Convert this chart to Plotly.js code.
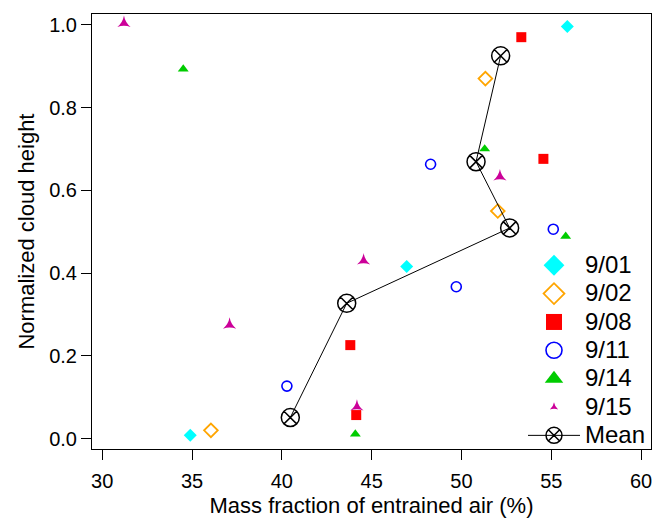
<!DOCTYPE html>
<html>
<head>
<meta charset="utf-8">
<script src="https://cdn.plot.ly/plotly-3.0.1.min.js"></script>
<style>html,body{margin:0;padding:0;background:#fff;}#chart{width:653px;height:520px;}</style>
</head>
<body>
<div id="chart"></div>
<script>
// Series data (mass fraction of entrained air %, normalized cloud height)
const seriesNames = ['9/01', '9/02', '9/08', '9/11', '9/14', '9/15'];
const x0901 = [55.89, 46.95, 34.90];
const y0901 = [0.996, 0.416, 0.008];
const x0902 = [51.33, 52.02, 36.05];
const y0902 = [0.870, 0.550, 0.020];
const x0908 = [53.33, 54.56, 43.81, 44.14];
const y0908 = [0.970, 0.676, 0.226, 0.057];
const x0911 = [48.28, 55.11, 49.71, 40.28];
const y0911 = [0.663, 0.506, 0.367, 0.127];
const x0914 = [34.51, 51.29, 55.80, 44.09];
const y0914 = [0.893, 0.700, 0.489, 0.011];
const x0915 = [31.21, 52.14, 44.55, 37.09, 44.18];
const y0915 = [1.004, 0.633, 0.430, 0.275, 0.077];
const xMean = [40.47, 43.61, 52.68, 50.81, 52.18];
const yMean = [0.051, 0.327, 0.509, 0.669, 0.925];
const xTitle = 'Mass fraction of entrained air (%)';
const yTitle = 'Normalized cloud height';

const xs = [x0901, x0902, x0908, x0911, x0914, x0915];
const ys = [y0901, y0902, y0908, y0911, y0914, y0915];

const styles = [
  {symbol: 'diamond', color: '#00FFFF', size: 10, lsize: 16, line: {width: 0}},
  {symbol: 'diamond-open', color: '#FFA500', size: 10.5, lsize: 16, line: {width: 1.8, color: '#FFA500'}},
  {symbol: 'square', color: '#FF0000', size: 10, lsize: 16, line: {width: 0}},
  {symbol: 'circle-open', color: '#0000FF', size: 10, lsize: 16, line: {width: 1.6, color: '#0000FF'}},
  {symbol: 'triangle-up', color: '#00CC00', size: 9.5, lsize: 16, line: {width: 0}},
  {symbol: 'star-triangle-up', color: '#CC0099', size: 9.5, lsize: 6, line: {width: 0}}
];

const legendText = name => '<span style="font-size:24px">' + name + '</span>';

const traces = [];
for (let i = 0; i < seriesNames.length; i++) {
  const s = styles[i];
  traces.push({
    type: 'scatter', mode: 'markers', x: xs[i], y: ys[i], name: seriesNames[i],
    showlegend: false, hoverinfo: 'x+y',
    marker: {symbol: s.symbol, color: s.color, size: s.size, line: s.line}
  });
}
traces.push({
  type: 'scatter', mode: 'lines+markers', x: xMean, y: yMean, name: 'Mean',
  showlegend: false,
  line: {color: '#000', width: 1},
  marker: {symbol: 'circle-x-open', color: '#000', size: 18, line: {width: 1.5, color: '#000'}}
});
// legend entries
for (let i = 0; i < seriesNames.length; i++) {
  const s = styles[i];
  traces.push({
    type: 'scatter', mode: 'markers', x: [null], y: [null], name: legendText(seriesNames[i]),
    marker: {symbol: s.symbol, color: s.color, size: s.lsize, line: s.line}
  });
}
traces.push({
  type: 'scatter', mode: 'lines+markers', x: [null], y: [null], name: legendText('Mean'),
  line: {color: '#000', width: 1},
  marker: {symbol: 'circle-x-open', color: '#000', size: 16, line: {width: 1.5, color: '#000'}}
});

const FONT = 'Liberation Sans, Arial, sans-serif';
const axisCommon = {
  showgrid: false, zeroline: false, showline: true, mirror: true,
  linecolor: '#000', linewidth: 1,
  ticks: 'outside', ticklen: 10, tickwidth: 1, tickcolor: '#000',
  tickfont: {family: FONT, size: 20, color: '#000'}
};

const layout = {
  width: 653, height: 520,
  margin: {l: 92, r: 2, t: 14, b: 71},
  paper_bgcolor: '#fff', plot_bgcolor: '#fff',
  font: {family: FONT, color: '#000'},
  xaxis: Object.assign({}, axisCommon, {
    range: [29.43, 60.55], tickvals: [30, 35, 40, 45, 50, 55, 60],
    ticklabelstandoff: 4,
    title: {text: xTitle, font: {family: FONT, size: 22}, standoff: 6}
  }),
  yaxis: Object.assign({}, axisCommon, {
    range: [-0.025, 1.026], tickvals: [0, 0.2, 0.4, 0.6, 0.8, 1.0], tickformat: '.1f'
  }),
  annotations: [{
    text: yTitle, xref: 'paper', yref: 'paper', x: -0.118, y: 0.5,
    xanchor: 'center', yanchor: 'middle', textangle: -90, showarrow: false,
    font: {family: FONT, size: 22, color: '#000'}
  }],
  legend: {
    x: 1, xanchor: 'right', y: -0.014, yanchor: 'bottom',
    bgcolor: 'rgba(0,0,0,0)', borderwidth: 0,
    font: {family: FONT, size: 19.5, color: '#000'},
    tracegroupgap: 0, itemsizing: 'trace', itemwidth: 52
  },
  showlegend: true
};

Plotly.newPlot('chart', traces, layout, {displayModeBar: false, staticPlot: true});
</script>
</body>
</html>
